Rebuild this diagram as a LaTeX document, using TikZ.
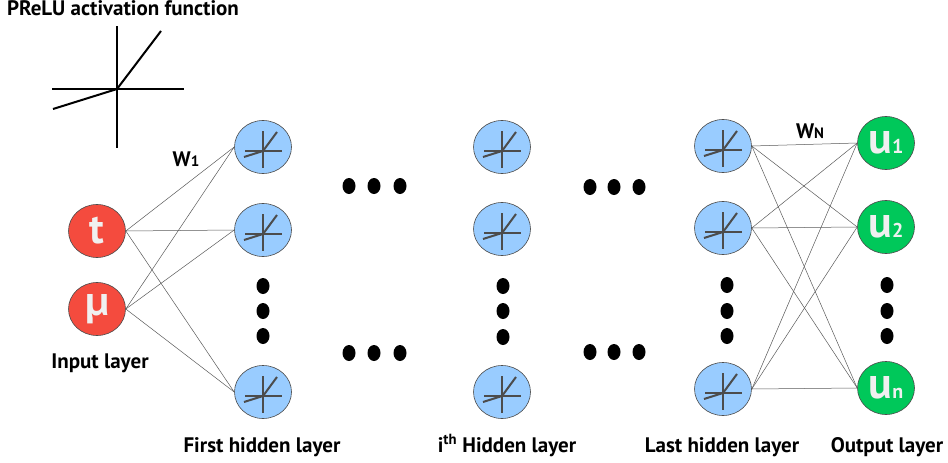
\documentclass[tikz,border=0pt]{standalone}
\usepackage{fontspec}
\setmainfont{PT Sans}
\usetikzlibrary{shapes,arrows,positioning,fit,calc}

\definecolor{inred}{RGB}{244,75,62}
\definecolor{outgreen}{RGB}{0,200,90}
\definecolor{hidblue}{RGB}{153,204,255}
\definecolor{nodetext}{RGB}{240,240,240}

\tikzset{
    unit/.style={ellipse, draw=black!70, line width=0.6pt, minimum width=57pt, minimum height=53pt, inner sep=0pt},
    neuron/.style={unit, fill=hidblue, path picture={
        \draw[line width=2pt] ($(path picture bounding box.center)+(-18,4)$) -- +(37,0);
        \draw[line width=2pt] ($(path picture bounding box.center)+(0,-16)$) -- +(0,37);
        \draw[line width=2pt] ($(path picture bounding box.center)+(-19,10)$) -- +(19,-6) -- +(33,-25);
    }},
    innode/.style={unit, fill=inred, text=nodetext, font=\bfseries\fontsize{42}{42}\selectfont},
    outnode/.style={unit, fill=outgreen, text=nodetext, font=\bfseries\fontsize{44}{44}\selectfont},
    layer/.style={anchor=base, font=\bfseries\fontsize{21}{21}\selectfont},
    dot/.style={ellipse, fill=black, minimum width=13pt, minimum height=16pt, inner sep=0pt},
    wire/.style={draw=black!65, line width=0.5pt}
}

\begin{document}
\begin{tikzpicture}[x=1pt, y=-1pt]
            \useasboundingbox (0,0) rectangle (948,463);

            % PReLU sketch
            \coordinate (O) at (117,89);
            \draw[line width=2pt] (52,89) -- (184,89);
            \draw[line width=2pt] (117,26) -- (117,148);
            \draw[line width=2pt] (53,109) -- (O) -- (161,31);
            \node[layer] (title) at (123,15.5) {PReLU activation function};

            % input layer
            \node[innode] (t) at (97,231) {t};
            \node[innode] (mu) at (97,309) {µ};
            \node[layer] (inlab) at (100,368) {Input layer};

            % first hidden layer
            \node[neuron] (f1) at (263,147) {};
            \node[neuron] (f2) at (263,230) {};
            \node[neuron] (f3) at (263,392) {};
            \node[layer] (flab) at (262,452) {First hidden layer};

            % i-th hidden layer
            \node[neuron] (m1) at (502,147) {};
            \node[neuron] (m2) at (502,229) {};
            \node[neuron] (m3) at (502,392) {};
            \node[layer] (mlab) at (507,452) {i\textsuperscript{th} Hidden layer};

            % last hidden layer
            \node[neuron] (l1) at (723,146) {};
            \node[neuron] (l2) at (723,228) {};
            \node[neuron] (l3) at (723,389) {};
            \node[layer] (llab) at (722,452) {Last hidden layer};

            % output layer
            \node[outnode] (u1) at (886,143) {u{\fontsize{20}{20}\selectfont 1}};
            \node[outnode] (u2) at (886,227) {u{\fontsize{20}{20}\selectfont 2}};
            \node[outnode] (u3) at (886,388) {u{\fontsize{20}{20}\selectfont n}};
            \node[layer] (olab) at (887,452) {Output layer};

            % weights
            \foreach \a in {t,mu}
                \foreach \b in {f1,f2,f3}
                    \draw[wire] (\a.east) -- (\b.west);
            \foreach \a in {l1,l2,l3}
                \foreach \b in {u1,u2,u3}
                    \draw[wire] (\a.east) -- (\b.west);
            \node[layer, anchor=center] (w1) at (186,159) {W{\fontsize{15}{15}\selectfont 1}};
            \node[layer, anchor=center] (wn) at (810,131) {W{\fontsize{15}{15}\selectfont N}};

            % dots
            \foreach \x/\y in {263/286, 263/311, 263/336, 503/286, 503/311, 503/337,
                               727/285, 727/311, 727/336, 887/285, 887/311, 887/336,
                               349/186, 374/186, 400/186, 349/353, 374/353, 400/353,
                               590/187, 614/187, 639/187, 590/352, 614/352, 639/352}
                \node[dot] at (\x,\y) {};
        \end{tikzpicture}
\end{document}
